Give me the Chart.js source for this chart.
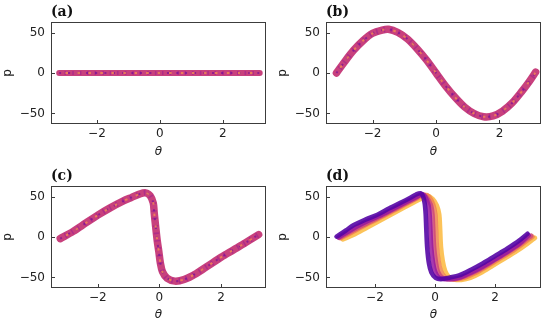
<!DOCTYPE html>
<html><head><meta charset="utf-8">
<script src="https://cdn.jsdelivr.net/npm/chart.js@4/dist/chart.umd.min.js"></script>
<style>
body{margin:0;background:#fff;width:550px;height:326px;overflow:hidden;position:relative}
.p{position:absolute;width:275px;height:163px}
</style></head><body>
<div class="p" style="left:0;top:0"><canvas id="ca" width="275" height="163"></canvas></div>
<div class="p" style="left:275px;top:0"><canvas id="cb" width="275" height="163"></canvas></div>
<div class="p" style="left:0;top:163px"><canvas id="cc" width="275" height="163"></canvas></div>
<div class="p" style="left:275px;top:163px"><canvas id="cd" width="275" height="163"></canvas></div>
<script>
// ---- data ----
const panelLabels = ['(a)', '(b)', '(c)', '(d)'];
const xTicks = [-2, 0, 2];
const yTicks = [-50, 0, 50];

const thetaA = [-3.2, -2.4, -1.6, -0.8, 0, 0.8, 1.6, 2.4, 3.17];
const pA     = [0, 0, 0, 0, 0, 0, 0, 0, 0];

const thetaB = [-3.14,-2.9,-2.6,-2.3,-2.0,-1.7,-1.5,-1.2,-0.9,-0.6,-0.3,0,0.3,0.6,0.9,1.2,1.5,1.8,2.1,2.4,2.7,2.95,3.14];
const pB     = [0,13,28,40,49,53,54,50,42,30,16,0,-16,-30,-42,-50,-54,-53,-47,-37,-23,-10,1];

const thetaC = [-3.22,-2.8,-2.4,-2.0,-1.6,-1.2,-0.9,-0.65,-0.45,-0.3,-0.2,-0.17,-0.12,-0.07,-0.02,0.03,0.1,0.25,0.5,0.8,1.2,1.6,2.0,2.4,2.8,3.22];
const pC     = [-2,7,17,27,36,44,49,53,54.5,51,42,30,12,-5,-18,-32,-43,-51,-54.5,-52.5,-45,-35,-25,-16,-7,3];

// panel (d): five snapshots, purple (0) to yellow (4)
const thetaD0 = [-3.28,-2.97,-2.72,-2.32,-1.92,-1.52,-1.08,-0.82,-0.63,-0.48,-0.4,-0.34,-0.31,-0.29,-0.26,-0.2,-0.12,0.02,0.2,0.5,0.8,1.2,1.6,2.0,2.4,2.8,3.08];
const pD0     = [0.5,8,14.5,21.5,27.5,35.5,43.5,48.5,52.5,54,50.5,41,28,10,-13,-33,-44,-50.5,-52,-50,-47.5,-40.5,-32.5,-23.5,-14.5,-4.5,4];
const thetaD1 = [-3.22,-2.9,-2.6,-2.2,-1.8,-1.4,-1.0,-0.72,-0.52,-0.4,-0.33,-0.22,-0.18,-0.155,-0.125,-0.065,0.01,0.13,0.31,0.58,0.85,1.2,1.6,2.0,2.4,2.8,3.12];
const pD1     = [-0.5,6.5,13,20.5,27,34.5,42.5,47.5,51.5,52.5,50,40,28,10,-13,-32,-43.5,-50,-52,-51.8,-49.7,-44,-36.3,-27.5,-18.5,-8.5,2.2];
const thetaD2 = [-3.18,-2.85,-2.5,-2.1,-1.7,-1.3,-0.9,-0.62,-0.45,-0.3,-0.14,-0.085,-0.06,-0.03,0.03,0.1,0.24,0.41,0.65,0.85,1.15,1.55,1.95,2.35,2.75,3.05,3.2];
const pD2     = [-1,5.9,12.8,20,27.5,35.3,43,48.5,52.5,49.5,40,28,10,-13,-31,-43,-50,-52,-52,-50.5,-46,-38.5,-29.5,-20.5,-11,-2.5,1.5];
const thetaD3 = [-3.14,-2.8,-2.4,-2.0,-1.6,-1.2,-0.82,-0.54,-0.36,-0.2,-0.06,0.01,0.035,0.065,0.125,0.2,0.33,0.5,0.75,1.0,1.35,1.75,2.15,2.55,2.9,3.25];
const pD3     = [-1.5,5,13,20.5,28,36,43.5,49,52,50,40,28,10,-13,-31,-42.5,-49.5,-52,-52,-50,-44.5,-36,-27,-18,-9,0.5];
const thetaD4 = [-3.07,-2.72,-2.27,-1.87,-1.47,-1.07,-0.72,-0.42,-0.26,-0.08,0.06,0.14,0.17,0.2,0.26,0.34,0.46,0.64,0.88,1.18,1.52,1.92,2.32,2.72,3.07,3.33];
const pD4     = [-3,2.5,11.5,19.5,27.5,35.5,42.5,48,51,47,39,28,10,-13,-30,-42,-49,-52.5,-53,-50.5,-44.5,-35.5,-26.5,-17.5,-8.5,-1];

// ---- helpers ----
const pts = (xs, ys) => xs.map((v, i) => ({x: v, y: ys[i]}));
const fmt = v => (v < 0 ? '\u2212' + Math.abs(v) : '' + v);

// Chart.js draws dataset 0 on top, so the base band goes last.
function band(xs, ys, w) {
  const d = pts(xs, ys);
  const base = {data: d, showLine: true, pointRadius: 0, tension: 0.3, borderCapStyle: 'round', borderJoinStyle: 'round', fill: false};
  return [
    Object.assign({}, base, {borderColor: 'rgba(245,140,80,0.8)', borderWidth: 2, borderDash: [2.5, 9], borderDashOffset: 5, borderCapStyle: 'butt'}),
    Object.assign({}, base, {borderColor: 'rgba(105,8,158,0.6)', borderWidth: 2, borderDash: [2, 7], borderCapStyle: 'butt'}),
    Object.assign({}, base, {borderColor: 'rgba(150,25,150,0.5)', borderWidth: w - 2, borderDash: [1.5, 6], borderDashOffset: 2, borderCapStyle: 'butt'}),
    Object.assign({}, base, {borderColor: '#c8417d', borderWidth: w})
  ];
}

function snap(xs, ys, color) {
  return {data: pts(xs, ys), showLine: true, pointRadius: 0, tension: 0.3, borderColor: color, borderWidth: 4.6,
          borderCapStyle: 'round', borderJoinStyle: 'round', fill: false};
}

const frame = {
  id: 'frame',
  afterDatasetsDraw(chart, args, opts) {
    const {ctx, chartArea: a, scales: {x, y}} = chart;
    ctx.save();
    ctx.strokeStyle = '#3c3c3c';
    ctx.lineWidth = 1;
    const L = Math.round(a.left) + 0.5, R = Math.round(a.right) - 0.5, T = Math.round(a.top) + 0.5, B = Math.round(a.bottom) - 0.5;
    ctx.strokeRect(L, T, R - L, B - T);
    ctx.beginPath();
    xTicks.forEach(t => { const px = Math.round(x.getPixelForValue(t)) + 0.5; ctx.moveTo(px, B); ctx.lineTo(px, B - 3.5); });
    yTicks.forEach(t => { const py = Math.round(y.getPixelForValue(t)) + 0.5; ctx.moveTo(L, py); ctx.lineTo(L + 3.5, py); });
    ctx.stroke();
    ctx.fillStyle = '#111';
    ctx.font = 'bold 14px "DejaVu Serif"';
    ctx.textBaseline = 'alphabetic';
    ctx.textAlign = 'left';
    ctx.fillText(opts.label, a.left, a.top - 6);
    ctx.restore();
  }
};

function make(id, datasets, xr, label, topPad, xH) {
  new Chart(document.getElementById(id), {
    type: 'scatter',
    data: {datasets},
    plugins: [frame],
    options: {
      responsive: false, animation: false, devicePixelRatio: 1,
      layout: {padding: {top: topPad, right: 9, left: 0, bottom: 0}},
      plugins: {legend: {display: false}, tooltip: {enabled: false}, frame: {label}},
      scales: {
        x: {type: 'linear', min: xr[0], max: xr[1],
            afterFit: s => { s.height = xH; },
            afterBuildTicks: s => { s.ticks = xTicks.map(v => ({value: v})); },
            grid: {display: false, drawTicks: false}, border: {display: false},
            ticks: {padding: 3, color: '#222', font: {family: 'DejaVu Sans', size: 12}, callback: fmt, maxRotation: 0},
            title: {display: true, text: '\u03b8', color: '#222', padding: {top: 4, bottom: 4},
                    font: {family: 'DejaVu Sans', size: 12, style: 'italic'}}},
        y: {type: 'linear', min: -63, max: 63,
            afterFit: s => { s.width = 51; },
            afterBuildTicks: s => { s.ticks = yTicks.map(v => ({value: v})); },
            grid: {display: false, drawTicks: false}, border: {display: false},
            ticks: {padding: 6, color: '#222', font: {family: 'DejaVu Sans', size: 12}, callback: fmt},
            title: {display: true, text: 'p', color: '#222', padding: {top: 1, bottom: 0},
                    font: {family: 'DejaVu Sans', size: 12}}}
      }
    }
  });
}

make('ca', band(thetaA, pA, 6), [-3.46, 3.37], panelLabels[0], 22, 39);
make('cb', band(thetaB, pB, 7.5), [-3.47, 3.31], panelLabels[1], 22, 39);
make('cc', band(thetaC, pC, 7.5), [-3.52, 3.46], panelLabels[2], 23, 38);
make('cd', [
  snap(thetaD0, pD0, 'rgba(85,5,165,0.9)'),
  snap(thetaD1, pD1, 'rgba(150,25,160,0.85)'),
  snap(thetaD2, pD2, 'rgba(205,72,122,0.85)'),
  snap(thetaD3, pD3, 'rgba(240,130,80,0.85)'),
  snap(thetaD4, pD4, 'rgba(252,185,60,0.85)')
], [-3.63, 3.53], panelLabels[3], 23, 38);
</script>
</body></html>
